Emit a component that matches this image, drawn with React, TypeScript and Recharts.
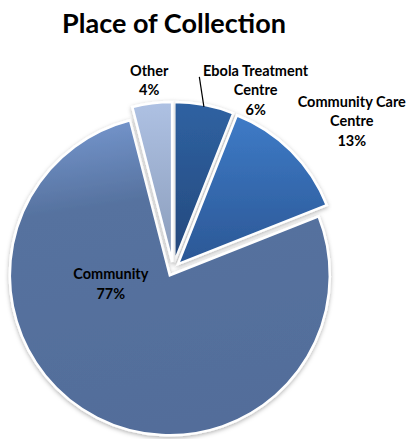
import React from "react";
import { PieChart, Pie, Cell } from "recharts";

// ---- data ----
const categories = ["Ebola Treatment Centre", "Community Care Centre", "Community", "Other"];
const shares = [6, 13, 77, 4];
const labelNameLines = [["Ebola Treatment", "Centre"], ["Community Care", "Centre"], ["Community"], ["Other"]];
const percentLabels = ["6%", "13%", "77%", "4%"];
const title = "Place of Collection";

// ---- layout / style ----
const W = 408;
const H = 439;
const CX = 173;
const CY = 269;
const R = 160;
const EXPLODE = 7;
const gradIds = ["gEbola", "gCCC", "gComm", "gOther"];
// label placement relative to the slice's middle angle (compass-degrees nudge, distance from centre)
const labelPlacement = [
  { nudge: 14, dist: 197 },
  { nudge: 5.4, dist: 232 },
  { nudge: 49.4, dist: 64 },
  { nudge: 0, dist: 190 },
];
const LINE_H = 19.6;
const FONT = "Lato, 'Open Sans', sans-serif";

const data = categories.map((name, i) => ({ name, value: shares[i] }));
const total = shares.reduce((a, b) => a + b, 0);
// mid angle (compass degrees, clockwise from top) for each slice
const midCompass = shares.map((v, i) => {
  const before = shares.slice(0, i).reduce((a, b) => a + b, 0);
  return ((before + v / 2) / total) * 360;
});
const polar = (cx: number, cy: number, deg: number, r: number) => {
  const rad = (deg * Math.PI) / 180;
  return { x: cx + r * Math.sin(rad), y: cy - r * Math.cos(rad) };
};

const renderLabel = (props: any) => {
  const { index } = props;
  const cx = CX;
  const cy = CY;
  const mid = midCompass[index];
  const pl = labelPlacement[index];
  const c = polar(cx, cy, mid + pl.nudge, pl.dist);
  const lines = [...labelNameLines[index], percentLabels[index]];
  const n = lines.length;
  let leader: React.ReactNode = null;
  if (index === 0) {
    const ec = polar(cx, cy, mid, EXPLODE);
    const s = polar(ec.x, ec.y, mid, R - 2);
    const e = polar(cx, cy, mid - 3, 194);
    leader = <line x1={s.x} y1={s.y} x2={e.x} y2={e.y} stroke="#000" strokeWidth={1.2} />;
  }
  return (
    <g key={`lbl-${index}`}>
      {leader}
      {lines.map((t, k) => (
        <text
          key={k}
          x={c.x}
          y={c.y + (k - (n - 1) / 2) * LINE_H + 5}
          textAnchor="middle"
          fontFamily={FONT}
          fontWeight={700}
          fontSize={14.5}
          fill="#000"
        >
          {t}
        </text>
      ))}
    </g>
  );
};

export default function App() {
  return (
    <div style={{ position: "absolute", left: 0, top: 0, width: W, height: H, background: "#fff" }}>
      <svg
        width={W}
        height={60}
        style={{ position: "absolute", left: 0, top: 0 }}
      >
        <text
          x={174}
          y={33}
          textAnchor="middle"
          fontFamily={FONT}
          fontWeight={700}
          fontSize={27}
          fill="#000"
        >
          {title}
        </text>
      </svg>
      <div style={{ position: "absolute", left: 0, top: 0 }}>
        <PieChart width={W} height={H} margin={{ top: 0, right: 0, bottom: 0, left: 0 }}>
          <defs>
            <linearGradient id="gEbola" x1="0" y1="0" x2="0" y2="1">
              <stop offset="0" stopColor="#2f62a2" />
              <stop offset="1" stopColor="#24487c" />
            </linearGradient>
            <linearGradient id="gCCC" x1="0" y1="0" x2="0" y2="1">
              <stop offset="0" stopColor="#3e7bc7" />
              <stop offset="1" stopColor="#2b5795" />
            </linearGradient>
            <linearGradient id="gComm" x1="0.2" y1="0" x2="0.35" y2="1">
              <stop offset="0" stopColor="#7596cd" />
              <stop offset="0.28" stopColor="#56729f" />
              <stop offset="1" stopColor="#526d9a" />
            </linearGradient>
            <linearGradient id="gOther" x1="0" y1="0" x2="0" y2="1">
              <stop offset="0" stopColor="#aec1e3" />
              <stop offset="1" stopColor="#8a9cba" />
            </linearGradient>
            <filter id="shadow" x="-20%" y="-20%" width="140%" height="140%">
              <feDropShadow dx="0" dy="1.5" stdDeviation="2" floodColor="#000" floodOpacity="0.3" />
            </filter>
          </defs>
          {data.map((_, i) => {
            const off = polar(CX, CY, midCompass[i], EXPLODE);
            return (
              <Pie
                key={`pie-${i}`}
                data={data}
                dataKey="value"
                nameKey="name"
                cx={off.x}
                cy={off.y}
                outerRadius={R}
                startAngle={90}
                endAngle={-270}
                isAnimationActive={false}
                labelLine={false}
                label={false}
              >
                {data.map((__, j) => (
                  <Cell
                    key={`c-${j}`}
                    fill={j === i ? `url(#${gradIds[j]})` : "none"}
                    stroke={j === i ? "#ffffff" : "none"}
                    strokeWidth={j === i ? 2.5 : 0}
                    filter={j === i ? "url(#shadow)" : undefined}
                  />
                ))}
              </Pie>
            );
          })}
          <Pie
            data={data}
            dataKey="value"
            nameKey="name"
            cx={CX}
            cy={CY}
            outerRadius={R}
            startAngle={90}
            endAngle={-270}
            isAnimationActive={false}
            fill="none"
            stroke="none"
            labelLine={false}
            label={renderLabel}
          >
            {data.map((__, j) => (
              <Cell key={`l-${j}`} fill="none" stroke="none" />
            ))}
          </Pie>
        </PieChart>
      </div>
    </div>
  );
}
